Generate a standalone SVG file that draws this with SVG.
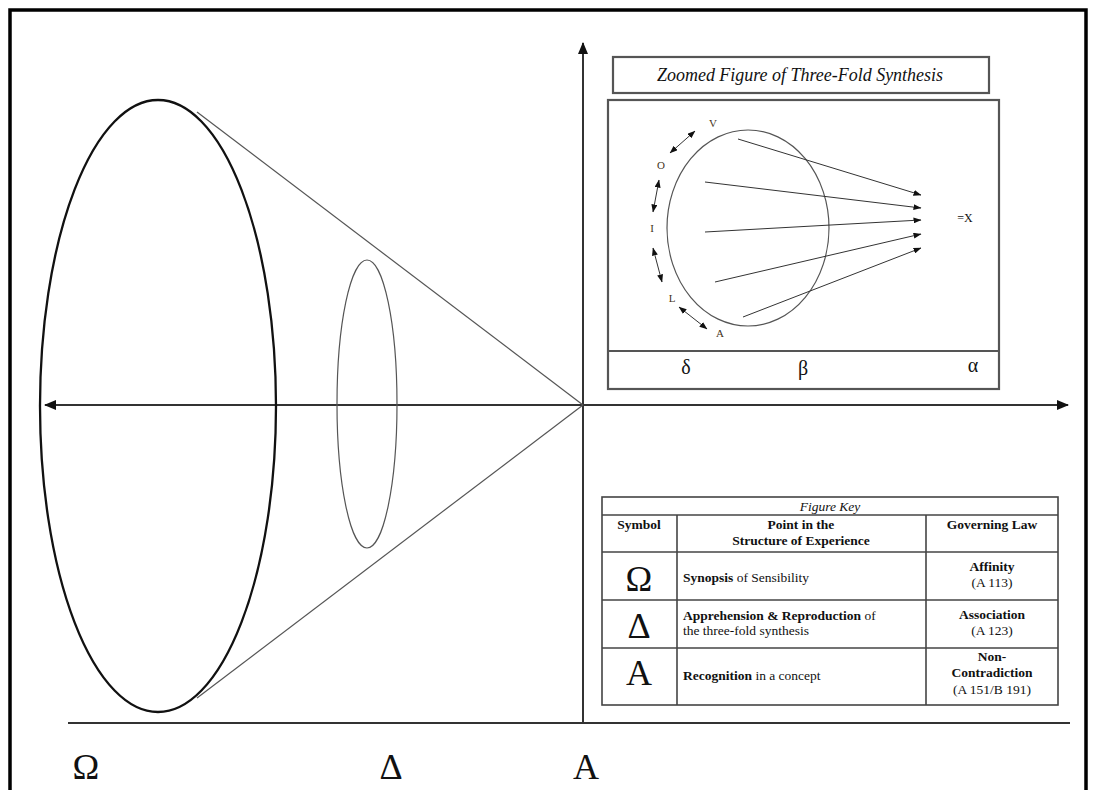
<svg xmlns="http://www.w3.org/2000/svg" width="1094" height="790" viewBox="0 0 1094 790">
<style>
.serif{font-family:"Liberation Serif","Times New Roman",serif;fill:#111}
.ax{stroke:#333;stroke-width:2;fill:none}
.thin{stroke:#555;stroke-width:1.2;fill:none}
.box{stroke:#555;stroke-width:2.2;fill:none}
.tb{stroke:#444;stroke-width:1.6;fill:none}
.ins{stroke:#333;stroke-width:1;fill:none}
.t12{font-size:13.5px}
.b{font-weight:bold}
.lbl{font-size:11px;fill:#443322}
.big{font-size:36px}
</style>
<defs>
<marker id="ah" viewBox="0 0 12 10" refX="11" refY="5" markerWidth="12" markerHeight="10" markerUnits="userSpaceOnUse" orient="auto-start-reverse">
<path d="M0,0 L12,5 L0,10 z" fill="#111"/>
</marker>
<marker id="sh" viewBox="0 0 8 6" refX="7.5" refY="3" markerWidth="8" markerHeight="6" markerUnits="userSpaceOnUse" orient="auto-start-reverse">
<path d="M0,0 L8,3 L0,6 z" fill="#111"/>
</marker>
</defs>
<rect x="0" y="0" width="1094" height="790" fill="#fff"/>
<path d="M10,800 V10 H1086 V800" fill="none" stroke="#000" stroke-width="3.5"/>

<g id="connectors">
<line class="ax" x1="45" y1="405" x2="1068" y2="405" marker-start="url(#ah)" marker-end="url(#ah)"/>
<line class="ax" x1="583" y1="723" x2="583" y2="43" marker-end="url(#ah)"/>
<line class="ax" x1="68" y1="723" x2="1070" y2="723"/>
<line class="thin" x1="197" y1="112" x2="583" y2="405"/>
<line class="thin" x1="197" y1="698" x2="583" y2="405"/>
</g>

<g id="node-omega">
<ellipse cx="158" cy="406" rx="118" ry="306" fill="none" stroke="#111" stroke-width="2.3"/>
<text class="serif big" x="86" y="779" text-anchor="middle">Ω</text>
</g>
<g id="node-delta">
<ellipse cx="367" cy="404" rx="30" ry="144" fill="none" stroke="#555" stroke-width="1.2"/>
<text class="serif big" x="391" y="779" text-anchor="middle">Δ</text>
</g>
<g id="node-a">
<text class="serif big" x="586" y="779" text-anchor="middle">A</text>
</g>

<g id="inset-title">
<rect class="box" x="613" y="57" width="376" height="36"/>
<text class="serif" x="800" y="81" font-size="18" font-style="italic" text-anchor="middle" textLength="286" lengthAdjust="spacingAndGlyphs">Zoomed Figure of Three-Fold Synthesis</text>
</g>

<g id="inset">
<rect class="box" x="608" y="100" width="391" height="289"/>
<line class="box" x1="608" y1="351" x2="999" y2="351"/>
<ellipse cx="748" cy="228" rx="81" ry="98" fill="none" stroke="#555" stroke-width="1.2"/>
<line class="ins" x1="738" y1="139" x2="921" y2="195" marker-end="url(#sh)"/>
<line class="ins" x1="705" y1="182" x2="921" y2="208" marker-end="url(#sh)"/>
<line class="ins" x1="705" y1="232" x2="921" y2="220" marker-end="url(#sh)"/>
<line class="ins" x1="715" y1="282" x2="921" y2="234" marker-end="url(#sh)"/>
<line class="ins" x1="743" y1="317" x2="921" y2="248" marker-end="url(#sh)"/>
<line class="ins" x1="670" y1="153" x2="695" y2="131" marker-start="url(#sh)" marker-end="url(#sh)"/>
<line class="ins" x1="659" y1="180" x2="653" y2="212" marker-start="url(#sh)" marker-end="url(#sh)"/>
<line class="ins" x1="653" y1="248" x2="662" y2="282" marker-start="url(#sh)" marker-end="url(#sh)"/>
<line class="ins" x1="679" y1="307" x2="707" y2="329" marker-start="url(#sh)" marker-end="url(#sh)"/>
<text class="serif lbl" x="713" y="127" text-anchor="middle">V</text>
<text class="serif lbl" x="661" y="169" text-anchor="middle">O</text>
<text class="serif lbl" x="652" y="232" text-anchor="middle">I</text>
<text class="serif lbl" x="672" y="302" text-anchor="middle">L</text>
<text class="serif lbl" x="720" y="337" text-anchor="middle">A</text>
<text class="serif" x="965" y="222" font-size="12" text-anchor="middle" fill="#333">=X</text>
<text class="serif" x="686" y="374" font-size="20" text-anchor="middle">δ</text>
<text class="serif" x="803" y="375" font-size="20" text-anchor="middle">β</text>
<text class="serif" x="973" y="372" font-size="20" text-anchor="middle">α</text>
</g>

<g id="figure-key">
<rect class="tb" x="602" y="497" width="456" height="208"/>
<line class="tb" x1="602" y1="515" x2="1058" y2="515"/>
<line class="tb" x1="602" y1="552" x2="1058" y2="552"/>
<line class="tb" x1="602" y1="600" x2="1058" y2="600"/>
<line class="tb" x1="602" y1="648" x2="1058" y2="648"/>
<line class="tb" x1="677" y1="515" x2="677" y2="705"/>
<line class="tb" x1="926" y1="515" x2="926" y2="705"/>
<text class="serif t12" x="830" y="511" font-style="italic" text-anchor="middle">Figure Key</text>
<text class="serif t12 b" x="639" y="529" text-anchor="middle">Symbol</text>
<text class="serif t12 b" x="801" y="529" text-anchor="middle">Point in the</text>
<text class="serif t12 b" x="801" y="545" text-anchor="middle">Structure of Experience</text>
<text class="serif t12 b" x="992" y="529" text-anchor="middle">Governing Law</text>
<text class="serif big" x="639" y="591" text-anchor="middle">Ω</text>
<text class="serif big" x="639" y="638" text-anchor="middle">Δ</text>
<text class="serif big" x="639" y="685" text-anchor="middle">A</text>
<text class="serif t12" x="683" y="582"><tspan class="b">Synopsis</tspan> of Sensibility</text>
<text class="serif t12" x="683" y="620"><tspan class="b">Apprehension &amp; Reproduction</tspan> of</text>
<text class="serif t12" x="683" y="635">the three-fold synthesis</text>
<text class="serif t12" x="683" y="680"><tspan class="b">Recognition</tspan> in a concept</text>
<text class="serif t12 b" x="992" y="571" text-anchor="middle">Affinity</text>
<text class="serif t12" x="992" y="587" text-anchor="middle">(A 113)</text>
<text class="serif t12 b" x="992" y="619" text-anchor="middle">Association</text>
<text class="serif t12" x="992" y="635" text-anchor="middle">(A 123)</text>
<text class="serif t12 b" x="992" y="661" text-anchor="middle">Non-</text>
<text class="serif t12 b" x="992" y="677" text-anchor="middle">Contradiction</text>
<text class="serif t12" x="992" y="694" text-anchor="middle">(A 151/B 191)</text>
</g>
</svg>
